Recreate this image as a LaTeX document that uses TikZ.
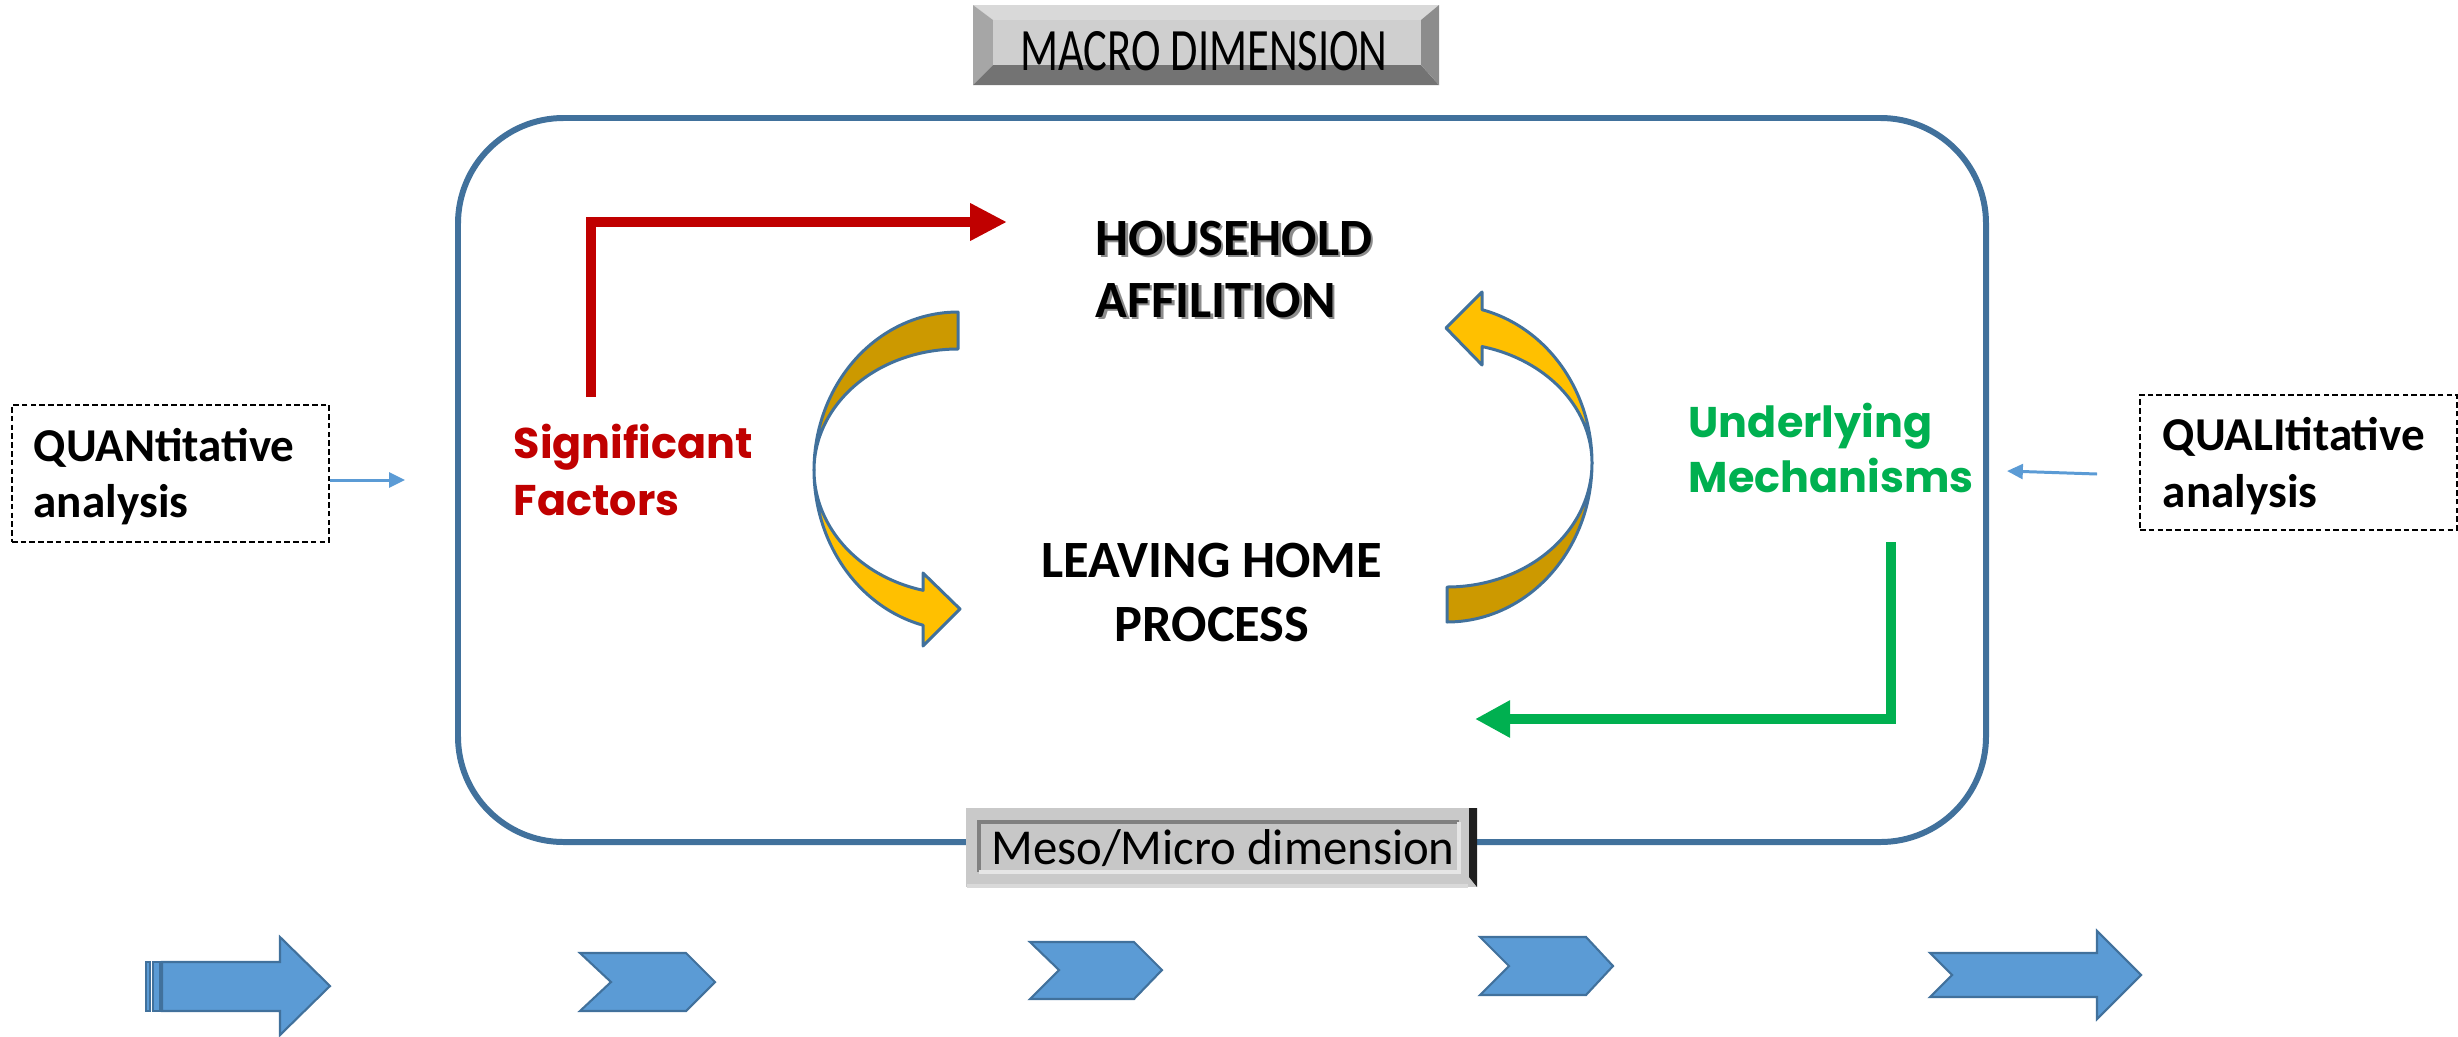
\documentclass[tikz,border=0pt]{standalone}
\usepackage{fontspec}
\setmainfont{Carlito}
\newfontfamily\geofont{Poppins}
\usetikzlibrary{arrows.meta}

\definecolor{frameblue}{HTML}{41719C}
\definecolor{fillblue}{HTML}{5B9BD5}
\definecolor{sigred}{HTML}{C00000}
\definecolor{mechgreen}{HTML}{00B050}
\definecolor{goldfront}{HTML}{FFC000}
\definecolor{goldback}{HTML}{CC9900}

\begin{document}
\begin{tikzpicture}[x=0.01cm, y=-0.01cm,
  calb/.style={inner sep=0pt, font=\bfseries\fontsize{14.9pt}{18pt}\selectfont},
  analb/.style={inner sep=0pt, anchor=base west, font=\bfseries\fontsize{13.4pt}{16pt}\selectfont},
  geob/.style={inner sep=0pt, anchor=base west, font=\geofont\bfseries\fontsize{12.2pt}{15pt}\selectfont},
  dashbox/.style={draw=black, line width=0.55pt, dash pattern=on 1.6pt off 0.9pt, inner sep=0pt},
  thinarrow/.style={draw=fillblue, line width=0.85pt, -{Triangle[length=4.5pt,width=4.2pt]}},
  redconn/.style={draw=sigred, line width=2.85pt, line join=miter, -{Triangle[length=10.5pt,width=10pt]}},
  greenconn/.style={draw=mechgreen, line width=2.85pt, line join=miter, -{Triangle[length=10pt,width=10pt]}},
  goldedge/.style={draw=frameblue, line width=0.85pt, line join=round},
  blockarrow/.style={fill=fillblue, draw=frameblue, line width=0.6pt, line join=miter},
]
\useasboundingbox (0,0) rectangle (2458,1036);

% ---------- main frame ----------
\draw[frameblue, line width=1.7pt, rounded corners=30pt] (458,118) rectangle (1986,842);

% ---------- MACRO DIMENSION bevelled plate ----------
\fill[gray!30] (973,5) -- (1439,5) -- (1421,20) -- (993,20) -- cycle;
\fill[black!35] (973,5) -- (993,20) -- (993,65) -- (973,85) -- cycle;
\fill[black!55] (973,85) -- (993,65) -- (1421,65) -- (1439,85) -- cycle;
\fill[black!45] (1439,5) -- (1439,85) -- (1421,65) -- (1421,20) -- cycle;
\fill[black!19] (993,20) rectangle (1421,65);
\node[inner sep=0pt, anchor=base, font=\fontsize{17.1pt}{20pt}\selectfont] (macro) at (1204,70)
  {\scalebox{0.74}[1]{MACRO DIMENSION}};

% ---------- Meso/Micro dimension plate ----------
\fill[black!21] (966,808) rectangle (1477,887);
\draw[white!85!black, line width=1pt] (967,886) -- (1468,886);
\fill[black!22] (979,822) rectangle (1459,872);
\draw[black!50, line width=1.1pt] (979,872) -- (979,822) -- (1459,822);
\draw[white!90!black, line width=1.1pt] (979,872) -- (1459,872) -- (1459,822);
\fill[black!88] (1469,808) -- (1477,808) -- (1477,887) -- (1469,877) -- cycle;
\node[inner sep=0pt, anchor=base, font=\fontsize{14.3pt}{17pt}\selectfont] (meso) at (1223,864)
  {\scalebox{0.97}[1]{Meso/Micro dimension}};

% ---------- curved arrows ----------
% left: back band (top) and front band with head (bottom)
\filldraw[goldedge, fill=goldback]
  plot[domain=180:270, samples=50, variable=\t] ({958+144*cos(\t)},{470+158*sin(\t)})
  -- plot[domain=270:180, samples=50, variable=\t] ({958+144*cos(\t)},{470+121*sin(\t)}) -- cycle;
\filldraw[goldedge, fill=goldfront]
  plot[domain=180:104, samples=50, variable=\t] ({958+144*cos(\t)},{470+160*sin(\t)})
  -- (923,646) -- (960,609) -- (923,573)
  -- plot[domain=104:180, samples=50, variable=\t] ({958+144*cos(\t)},{470+124*sin(\t)}) -- cycle;
% right: back band (bottom) and front band with head (top)
\filldraw[goldedge, fill=goldback]
  plot[domain=0:90, samples=50, variable=\t] ({1447+145*cos(\t)},{463+159*sin(\t)})
  -- plot[domain=90:0, samples=50, variable=\t] ({1447+145*cos(\t)},{463+124*sin(\t)}) -- cycle;
\filldraw[goldedge, fill=goldfront]
  plot[domain=0:-76, samples=50, variable=\t] ({1447+145*cos(\t)},{463+158*sin(\t)})
  -- (1482,292) -- (1446,328) -- (1482,365)
  -- plot[domain=-76:0, samples=50, variable=\t] ({1447+145*cos(\t)},{463+120*sin(\t)}) -- cycle;

% ---------- central texts ----------
\node[calb, anchor=base west, text=black!45] (hhAs) at (1097.5,257.5) {HOUSEHOLD};
\node[calb, anchor=base west, text=black!45] (hhBs) at (1097.5,319.5) {AFFILITION};
\node[calb, anchor=base west] (hhA) at (1095,255) {HOUSEHOLD};
\node[calb, anchor=base west] (hhB) at (1095,317) {AFFILITION};
\node[calb, anchor=base] (lhA) at (1212,577) {LEAVING HOME};
\node[calb, anchor=base] (lhB) at (1212,641) {PROCESS};

% ---------- side labels ----------
\node[geob, text=sigred] (sigA) at (513,458) {Significant};
\node[geob, text=sigred] (sigB) at (513,515) {Factors};
\node[geob, text=mechgreen] (mechA) at (1688,437) {Underlying};
\node[geob, text=mechgreen] (mechB) at (1688,492) {Mechanisms};

% ---------- elbow connectors ----------
\coordinate (redStart) at (591,397);
\coordinate (redEnd) at (1007,222);
\draw[redconn] (redStart) |- (redEnd);
\coordinate (greenStart) at (1891,542);
\coordinate (greenEnd) at (1475,719);
\draw[greenconn] (greenStart) |- (greenEnd);

% ---------- analysis boxes ----------
\node[dashbox, minimum width=90.2pt, minimum height=39pt] (quan) at (170.5,473.5) {};
\node[analb] (quanA) at (33,461) {QUANtitative};
\node[analb] (quanB) at (33,517) {analysis};
\coordinate (quanTip) at (405,480);
\draw[thinarrow] (quan.east |- quanTip) -- (quanTip);

\node[dashbox, minimum width=90.2pt, minimum height=38.4pt] (qual) at (2298.5,462.5) {};
\node[analb] (qualA) at (2162,450) {QUALItitative};
\node[analb] (qualB) at (2162,507) {analysis};
\coordinate (qualFrom) at (2097,474);
\coordinate (qualTip) at (2007,471);
\draw[thinarrow] (qualFrom) -- (qualTip);

% ---------- bottom process arrows ----------
\filldraw[blockarrow] (146,962) rectangle (150,1011);
\filldraw[blockarrow] (153,962) rectangle (160,1011);
\filldraw[blockarrow] (162,962) -- (280,962) -- (280,937) -- (330,986) -- (280,1035) -- (280,1011) -- (162,1011) -- cycle;
\filldraw[blockarrow] (580,953) -- (686,953) -- (715,982) -- (686,1011) -- (580,1011) -- (611,982) -- cycle;
\filldraw[blockarrow] (1030,942) -- (1134,942) -- (1162,970) -- (1134,999) -- (1030,999) -- (1059,970) -- cycle;
\filldraw[blockarrow] (1480,937) -- (1586,937) -- (1613,966) -- (1586,995) -- (1480,995) -- (1509,966) -- cycle;
\filldraw[blockarrow] (1930,953) -- (2097,953) -- (2097,931) -- (2141,975) -- (2097,1019) -- (2097,997) -- (1930,997) -- (1952,975) -- cycle;
\end{tikzpicture}
\end{document}
